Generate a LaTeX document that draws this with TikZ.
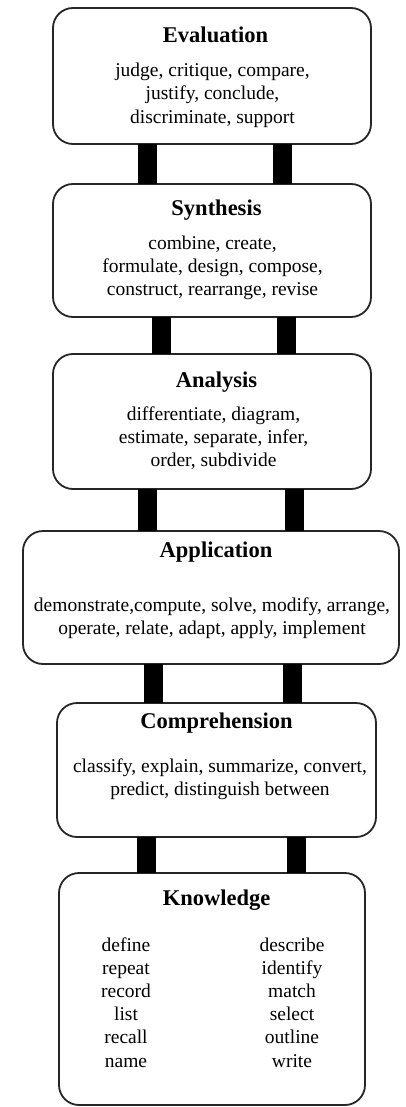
\documentclass[tikz,border=0pt]{standalone}
\usepackage{fontspec}
\setmainfont{Liberation Serif}
\begin{document}
\begin{tikzpicture}[x=1pt,y=-1pt,
  box/.style={draw=black!85, line width=1.8pt, rounded corners=20pt, fill=white, inner sep=0pt, outer sep=0pt},
  ttl/.style={font=\fontsize{22.5}{27}\selectfont\bfseries, anchor=base, inner sep=0pt},
  txt/.style={font=\fontsize{19.5}{23.5}\selectfont, anchor=base, inner sep=0pt},
  bar/.style={line width=19pt, black}]
\useasboundingbox (0,0) rectangle (405,1107);
% boxes
\node[box, minimum width=318pt, minimum height=136pt] (eval) at (212,76) {};
\node[box, minimum width=318pt, minimum height=133pt] (syn) at (212,250.5) {};
\node[box, minimum width=318pt, minimum height=135pt] (ana) at (212,421.5) {};
\node[box, minimum width=376pt, minimum height=133pt] (app) at (211,597.5) {};
\node[box, minimum width=319pt, minimum height=134pt] (comp) at (216.5,770) {};
\node[box, minimum width=306pt, minimum height=232pt] (know) at (212,989) {};
% bars
\coordinate (a1) at (147.5,0); \coordinate (b1) at (282.5,0);
\coordinate (a2) at (161,0);   \coordinate (b2) at (286,0);
\coordinate (a3) at (147.5,0); \coordinate (b3) at (294.5,0);
\coordinate (a4) at (153,0);   \coordinate (b4) at (292.5,0);
\coordinate (a5) at (146,0);   \coordinate (b5) at (296.5,0);
\draw[bar] (a1 |- eval.south) -- (a1 |- syn.north);
\draw[bar] (b1 |- eval.south) -- (b1 |- syn.north);
\draw[bar] (a2 |- syn.south) -- (a2 |- ana.north);
\draw[bar] (b2 |- syn.south) -- (b2 |- ana.north);
\draw[bar] (a3 |- ana.south) -- (a3 |- app.north);
\draw[bar] (b3 |- ana.south) -- (b3 |- app.north);
\draw[bar] (a4 |- app.south) -- (a4 |- comp.north);
\draw[bar] (b4 |- app.south) -- (b4 |- comp.north);
\draw[bar] (a5 |- comp.south) -- (a5 |- know.north);
\draw[bar] (b5 |- comp.south) -- (b5 |- know.north);
% Evaluation
\node[ttl] (evt) at (215.5,43) {Evaluation};
\node[txt] (ev1) at (212.5,76.5) {judge, critique, compare,};
\node[txt] (ev2) at (212.5,100) {justify, conclude,};
\node[txt] (ev3) at (212.5,123.5) {discriminate, support};
% Synthesis
\node[ttl] (syt) at (216.5,216) {Synthesis};
\node[txt] (sy1) at (212.5,249) {combine, create,};
\node[txt] (sy2) at (212.5,272) {formulate, design, compose,};
\node[txt] (sy3) at (212.5,295) {construct, rearrange, revise};
% Analysis
\node[ttl] (ant) at (216.5,387) {Analysis};
\node[txt] (an1) at (213.5,420) {differentiate, diagram,};
\node[txt] (an2) at (213.5,443) {estimate, separate, infer,};
\node[txt] (an3) at (213.5,466) {order, subdivide};
% Application
\node[ttl] (apt) at (216,557) {Application};
\node[txt] (ap1) at (212,611) {demonstrate,compute, solve, modify, arrange,};
\node[txt] (ap2) at (212,634) {operate, relate, adapt, apply, implement};
% Comprehension
\node[ttl] (cot) at (216.5,728) {Comprehension};
\node[txt] (co1) at (220,772) {classify, explain, summarize, convert,};
\node[txt] (co2) at (220,795) {predict, distinguish between};
% Knowledge
\node[ttl] (knt) at (216.5,905) {Knowledge};
\node[txt] (kl1) at (126,951) {define};
\node[txt] (kl2) at (126,974.2) {repeat};
\node[txt] (kl3) at (126,997.4) {record};
\node[txt] (kl4) at (126,1020.6) {list};
\node[txt] (kl5) at (126,1043.8) {recall};
\node[txt] (kl6) at (126,1067) {name};
\node[txt] (kr1) at (292,951) {describe};
\node[txt] (kr2) at (292,974.2) {identify};
\node[txt] (kr3) at (292,997.4) {match};
\node[txt] (kr4) at (292,1020.6) {select};
\node[txt] (kr5) at (292,1043.8) {outline};
\node[txt] (kr6) at (292,1067) {write};
\end{tikzpicture}
\end{document}
